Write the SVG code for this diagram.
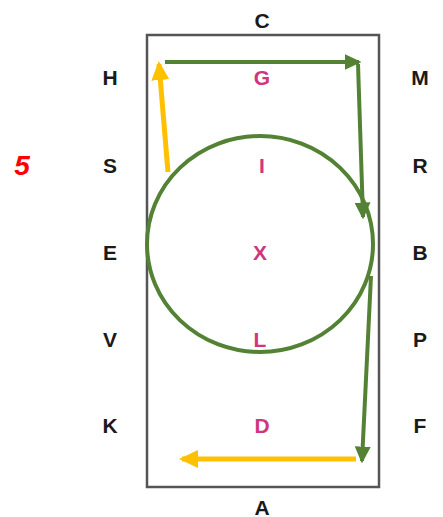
<svg xmlns="http://www.w3.org/2000/svg" width="443" height="517" viewBox="0 0 443 517">
<style>
.lb{font-family:"Liberation Sans",Arial,sans-serif;font-weight:bold;font-size:21px;fill:#1a1a1a;text-anchor:middle;dominant-baseline:central}
.in{font-family:"Liberation Sans",Arial,sans-serif;font-weight:bold;font-size:21px;fill:#d0357d;text-anchor:middle;dominant-baseline:central}
.g{stroke:#548235;stroke-width:4;fill:none}
.y{stroke:#ffc000;stroke-width:5;fill:none}
</style>
<defs>
<marker id="ag" markerWidth="4.2" markerHeight="4" refX="3.6" refY="2" orient="auto" markerUnits="strokeWidth"><path d="M0,0L4.2,2L0,4z" fill="#548235"/></marker>
<marker id="ay" markerWidth="3.8" markerHeight="3.6" refX="3.2" refY="1.8" orient="auto" markerUnits="strokeWidth"><path d="M0,0L3.8,1.8L0,3.6z" fill="#ffc000"/></marker>
</defs>
<rect width="443" height="517" fill="#fff"/>
<g id="frame"><rect x="147" y="35" width="232" height="452" fill="#fff" stroke="#555" stroke-width="2.5"/></g>
<g id="circle"><ellipse cx="260" cy="244" rx="113" ry="108" stroke-width="4.5" class="g"/></g>
<g id="labels">
<text class="lb" x="262" y="20">C</text>
<text class="lb" x="262" y="507">A</text>
<text class="lb" x="110" y="77">H</text>
<text class="lb" x="110" y="165">S</text>
<text class="lb" x="110" y="252">E</text>
<text class="lb" x="110" y="339">V</text>
<text class="lb" x="110" y="425">K</text>
<text class="lb" x="420" y="77">M</text>
<text class="lb" x="420" y="165">R</text>
<text class="lb" x="420" y="252">B</text>
<text class="lb" x="420" y="339">P</text>
<text class="lb" x="420" y="425">F</text>
<text class="in" x="262" y="77">G</text>
<text class="in" x="262" y="165">I</text>
<text class="in" x="260" y="252">X</text>
<text class="in" x="260" y="339">L</text>
<text class="in" x="262" y="425">D</text>
<text x="22" y="165" font-family="Liberation Sans,Arial,sans-serif" font-weight="bold" font-style="italic" font-size="28" fill="#ff0000" text-anchor="middle" dominant-baseline="central">5</text>
</g>
<g id="connectors">
<line x1="165" y1="62" x2="359" y2="62" class="g" marker-end="url(#ag)"/>
<line x1="358" y1="64" x2="363" y2="217" class="g" marker-end="url(#ag)"/>
<line x1="371" y1="276" x2="362" y2="461" class="g" marker-end="url(#ag)"/>
<line x1="356" y1="459" x2="182" y2="459" class="y" marker-end="url(#ay)"/>
<line x1="168" y1="172" x2="159" y2="64" class="y" marker-end="url(#ay)"/>
</g>
</svg>
